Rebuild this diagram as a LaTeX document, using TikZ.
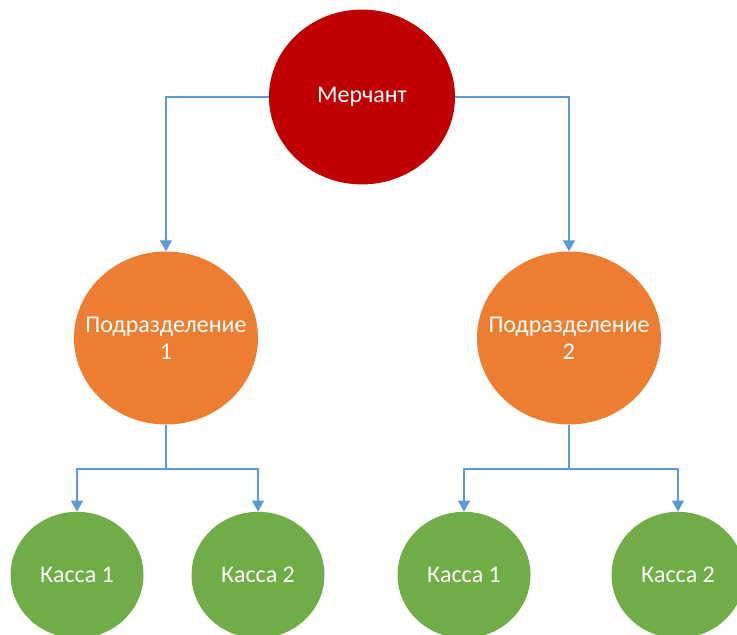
\documentclass[tikz,border=0pt]{standalone}
\usepackage{fontspec}
\setmainfont{Carlito}
\usetikzlibrary{arrows.meta}
\definecolor{merchRed}{HTML}{C00000}
\definecolor{unitOrange}{HTML}{ED7D31}
\definecolor{cashGreen}{HTML}{70AD47}
\definecolor{linkBlue}{HTML}{5B9BD5}
\begin{document}
\begin{tikzpicture}[x=1pt, y=-1pt,
  every node/.style={ellipse node, text=white, align=center, font=\fontsize{24}{27}\selectfont},
  ellipse node/.style={draw=none, shape=circle, inner sep=0pt},
  link/.style={-{Triangle[width=12pt,length=11pt]}, line width=1.3pt, linkBlue}]
\useasboundingbox (0,0) rectangle (737,635);

\node (merchant) [fill=merchRed, minimum size=186pt, yscale=0.94] at (362,97) {};
\node at (merchant.center) {Мерчант};

\node (unit1) [fill=unitOrange, minimum size=184pt, yscale=0.94] at (166,338) {};
\node at (unit1.center) {Подразделение\\1};
\node (unit2) [fill=unitOrange, minimum size=184pt, yscale=0.94] at (569,338) {};
\node at (unit2.center) {Подразделение\\2};

\node (cash11) [fill=cashGreen, minimum size=133pt, yscale=0.95] at (77,575) {};
\node at (cash11.center) {Касса 1};
\node (cash12) [fill=cashGreen, minimum size=133pt, yscale=0.95] at (258,575) {};
\node at (cash12.center) {Касса 2};
\node (cash21) [fill=cashGreen, minimum size=133pt, yscale=0.95] at (464,575) {};
\node at (cash21.center) {Касса 1};
\node (cash22) [fill=cashGreen, minimum size=133pt, yscale=0.95] at (678,575) {};
\node at (cash22.center) {Касса 2};

\coordinate (split1) at (166,469);
\coordinate (split2) at (569,469);

\draw[link] (merchant.west) -| (unit1.north);
\draw[link] (merchant.east) -| (unit2.north);
\draw[line width=1.3pt, linkBlue] (unit1.south) -- (split1);
\draw[line width=1.3pt, linkBlue] (unit2.south) -- (split2);
\draw[link] (split1) -| (cash11.north);
\draw[link] (split1) -| (cash12.north);
\draw[link] (split2) -| (cash21.north);
\draw[link] (split2) -| (cash22.north);
\end{tikzpicture}
\end{document}
